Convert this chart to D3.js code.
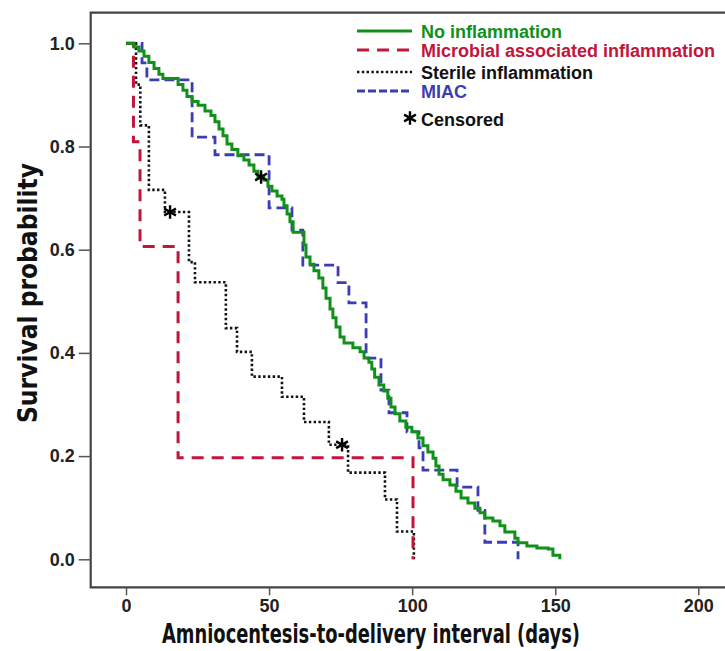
<!DOCTYPE html>
<html>
<head>
<meta charset="utf-8">
<script src="https://cdn.jsdelivr.net/npm/d3@7"></script>
<style>
  html, body { margin: 0; padding: 0; background: #fff; }
  svg { display: block; }
  .tick text { font-family: "Liberation Sans", Arial, sans-serif; font-weight: bold; font-size: 18px; fill: #222; }
  .tick line { stroke: #555; stroke-width: 1.5; }
</style>
</head>
<body>
<svg id="chart" width="725" height="651"></svg>
<script>
// Kaplan-Meier curves: time to delivery (days) and survival probability after each step
const noInflDays = [0, 2.8, 4.5, 6.3, 8.0, 9.8, 11.5, 12.9, 18.2, 19.9, 21.3, 23.1, 25.2, 27.6, 29.7, 31.1, 32.5, 33.9, 35.3, 37.0, 39.1, 41.2, 43.0, 44.7, 46.1, 48.2, 49.6, 51.0, 52.8, 54.5, 55.2, 56.3, 57.3, 58.4, 62.2, 62.9, 64.3, 65.7, 67.4, 68.8, 69.9, 71.3, 72.3, 73.4, 74.8, 76.2, 79.3, 81.8, 83.2, 84.9, 85.9, 86.9, 88.4, 90.1, 91.5, 92.6, 94.0, 95.7, 97.8, 99.9, 102.0, 103.8, 105.5, 107.3, 108.3, 109.4, 110.8, 113.2, 115.3, 117.1, 119.5, 121.9, 123.7, 125.4, 128.2, 130.7, 132.4, 135.9, 137.0, 140.1, 143.6, 147.5, 149.2, 151.6];
const noInflSurv = [1.0, 0.993, 0.985, 0.975, 0.963, 0.951, 0.940, 0.932, 0.920, 0.909, 0.897, 0.887, 0.880, 0.869, 0.860, 0.848, 0.834, 0.821, 0.805, 0.794, 0.782, 0.774, 0.764, 0.752, 0.741, 0.735, 0.723, 0.714, 0.704, 0.698, 0.685, 0.669, 0.654, 0.634, 0.609, 0.586, 0.572, 0.559, 0.545, 0.526, 0.506, 0.485, 0.468, 0.450, 0.431, 0.419, 0.410, 0.402, 0.390, 0.382, 0.369, 0.353, 0.338, 0.326, 0.312, 0.295, 0.282, 0.268, 0.256, 0.247, 0.235, 0.220, 0.208, 0.196, 0.181, 0.165, 0.154, 0.144, 0.132, 0.119, 0.109, 0.099, 0.090, 0.080, 0.074, 0.065, 0.053, 0.041, 0.032, 0.026, 0.022, 0.020, 0.008, 0.0];

const microbialDays = [0, 2.6, 4.9, 18.2, 100.3];
const microbialSurv = [1.0, 0.809, 0.606, 0.197, 0.0];

const sterileDays = [0, 3.5, 5.0, 8.0, 13.6, 22.0, 24.1, 34.9, 38.8, 44.0, 54.5, 62.2, 70.9, 77.6, 90.5, 94.7, 100.6];
const sterileSurv = [1.0, 0.920, 0.841, 0.716, 0.673, 0.576, 0.537, 0.448, 0.402, 0.354, 0.315, 0.266, 0.222, 0.168, 0.116, 0.054, 0.0];

const miacDays = [0, 5.6, 7.3, 23.1, 31.1, 50.0, 58.0, 61.8, 74.1, 77.9, 83.9, 89.1, 91.9, 98.2, 102.4, 103.8, 115.7, 123.0, 125.4, 137.0];
const miacSurv = [1.0, 0.962, 0.929, 0.818, 0.784, 0.681, 0.638, 0.570, 0.536, 0.497, 0.390, 0.328, 0.284, 0.247, 0.216, 0.173, 0.140, 0.095, 0.033, 0.0];

// censored observations (day, survival)
const censoredDays = [47.2, 15.4, 75.5];
const censoredSurv = [0.741, 0.673, 0.222];

const xTicks = [0, 50, 100, 150, 200];
const yTicks = [0.0, 0.2, 0.4, 0.6, 0.8, 1.0];

const legendLabels = ["No inflammation", "Microbial associated inflammation", "Sterile inflammation", "MIAC"];
const censorLabel = "Censored";
const xTitle = "Amniocentesis-to-delivery interval (days)";
const yTitle = "Survival probability";

// drawing
const svg = d3.select("#chart");
const x = d3.scaleLinear().domain([0, 200]).range([126, 698.3]);
const y = d3.scaleLinear().domain([0, 1]).range([559.3, 43.3]);

const frame = { left: 90.7, top: 12.7, right: 740, bottom: 587.3 };

svg.append("rect").attr("width", 725).attr("height", 651).attr("fill", "#fff");

// plot frame
svg.append("path")
  .attr("d", `M${frame.right},${frame.top}H${frame.left}V${frame.bottom}H${frame.right}`)
  .attr("fill", "none").attr("stroke", "#444").attr("stroke-width", 2.2);

// axes
const yAxis = svg.append("g").attr("transform", `translate(${frame.left},0)`)
  .call(d3.axisLeft(y).tickValues(yTicks).tickFormat(d3.format(".1f")).tickSize(12).tickPadding(4));
const xAxis = svg.append("g").attr("transform", `translate(0,${frame.bottom})`)
  .call(d3.axisBottom(x).tickValues(xTicks).tickFormat(d3.format("d")).tickSize(8).tickPadding(4));
yAxis.select(".domain").remove();
xAxis.select(".domain").remove();

// axis titles
const titleFont = '"Liberation Sans Narrow", "Arial Narrow", "DejaVu Sans Condensed", "Liberation Sans", Arial, sans-serif';
svg.append("text")
  .attr("x", 371).attr("y", 643)
  .attr("text-anchor", "middle")
  .attr("font-family", titleFont).attr("font-weight", "bold").attr("font-size", 26)
  .attr("textLength", 418).attr("lengthAdjust", "spacingAndGlyphs")
  .attr("fill", "#111")
  .text(xTitle);
svg.append("text")
  .attr("transform", "translate(37,293) rotate(-90)")
  .attr("text-anchor", "middle")
  .attr("font-family", titleFont).attr("font-weight", "bold").attr("font-size", 27)
  .attr("textLength", 260).attr("lengthAdjust", "spacingAndGlyphs")
  .attr("fill", "#111")
  .text(yTitle);

// series
const series = [
  { days: noInflDays, surv: noInflSurv, color: "#11901a", width: 3, dash: null },
  { days: microbialDays, surv: microbialSurv, color: "#c0163c", width: 3, dash: "12,8" },
  { days: sterileDays, surv: sterileSurv, color: "#111", width: 2.6, dash: "2.4,2.4" },
  { days: miacDays, surv: miacSurv, color: "#3c3cb4", width: 2.8, dash: "10,5" }
];

const line = d3.line().x(d => x(d[0])).y(d => y(d[1])).curve(d3.curveStepAfter);

// draw in back-to-front order: MIAC, sterile, microbial, then no inflammation on top
[3, 2, 1, 0].forEach(i => {
  const s = series[i];
  const pts = s.days.map((d, j) => [d, s.surv[j]]);
  svg.append("path")
    .attr("d", line(pts))
    .attr("fill", "none")
    .attr("stroke", s.color)
    .attr("stroke-width", s.width)
    .attr("stroke-dasharray", s.dash)
    .attr("stroke-linejoin", "miter");
});

// censored marks
const star = d3.symbol().type(d3.symbolAsterisk).size(130);
svg.selectAll("path.censor")
  .data(censoredDays.map((d, i) => [d, censoredSurv[i]]))
  .join("path")
  .attr("class", "censor")
  .attr("transform", d => `translate(${x(d[0])},${y(d[1])})`)
  .attr("d", star)
  .attr("fill", "none").attr("stroke", "#000").attr("stroke-width", 2.4);

// legend
const legend = svg.append("g");
const rowY = [31, 50, 72, 91];
series.forEach((s, i) => {
  legend.append("line")
    .attr("x1", 357).attr("x2", 412)
    .attr("y1", rowY[i]).attr("y2", rowY[i])
    .attr("stroke", s.color)
    .attr("stroke-width", s.width)
    .attr("stroke-dasharray", i === 3 ? "8,3" : s.dash);
  legend.append("text")
    .attr("x", 421).attr("y", rowY[i] + 1)
    .attr("dy", "0.35em")
    .attr("font-family", '"Liberation Sans", Arial, sans-serif')
    .attr("font-weight", "bold").attr("font-size", 18)
    .attr("fill", i === 2 ? "#111" : s.color)
    .text(legendLabels[i]);
});
legend.append("path")
  .attr("transform", "translate(410,118)")
  .attr("d", star)
  .attr("fill", "none").attr("stroke", "#000").attr("stroke-width", 2.4);
legend.append("text")
  .attr("x", 421).attr("y", 120)
  .attr("dy", "0.35em")
  .attr("font-family", '"Liberation Sans", Arial, sans-serif')
  .attr("font-weight", "bold").attr("font-size", 18)
  .attr("fill", "#111")
  .text(censorLabel);
</script>
</body>
</html>
